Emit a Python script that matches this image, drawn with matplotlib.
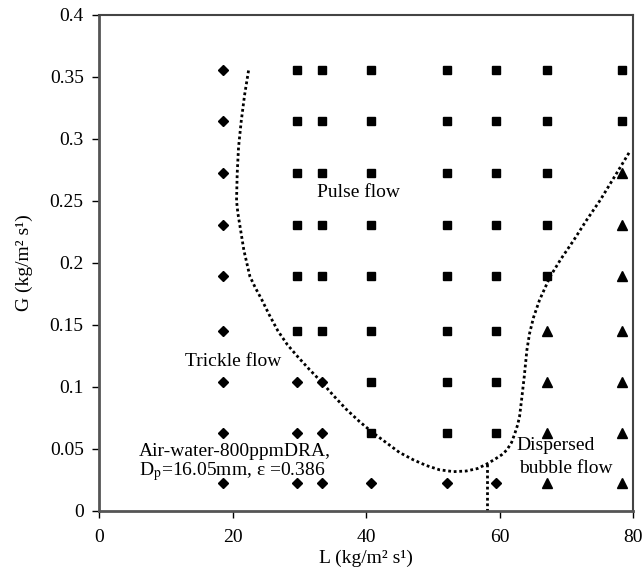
import matplotlib
matplotlib.use("Agg")
import matplotlib.pyplot as plt
from matplotlib.ticker import FuncFormatter

plt.rcParams['font.family'] = ['Liberation Serif', 'DejaVu Serif']
plt.rcParams['mathtext.fontset'] = 'stix'

# trickle flow (diamonds)
trickle_L = [18.6] * 9 + [29.7, 29.7, 29.7, 33.4, 33.4, 33.4, 40.8, 52.1, 59.4]
trickle_G = [0.355, 0.314, 0.272, 0.230, 0.189, 0.145, 0.104, 0.063, 0.022,
             0.104, 0.063, 0.022, 0.104, 0.063, 0.022, 0.022, 0.022, 0.022]

# pulse flow (squares)
pulse_cols = [29.7, 33.4, 40.8, 52.1, 59.4, 67.1, 78.3]
pulse_rows = [
    [0.355, 0.314, 0.272, 0.230, 0.189, 0.145],
    [0.355, 0.314, 0.272, 0.230, 0.189, 0.145],
    [0.355, 0.314, 0.272, 0.230, 0.189, 0.145, 0.104, 0.063],
    [0.355, 0.314, 0.272, 0.230, 0.189, 0.145, 0.104, 0.063],
    [0.355, 0.314, 0.272, 0.230, 0.189, 0.145, 0.104, 0.063],
    [0.355, 0.314, 0.272, 0.230, 0.189],
    [0.355, 0.314],
]
pulse_L = [c for c, r in zip(pulse_cols, pulse_rows) for _ in r]
pulse_G = [g for r in pulse_rows for g in r]

# dispersed bubble flow (triangles)
bubble_L = [67.1] * 4 + [78.3] * 7
bubble_G = [0.145, 0.104, 0.063, 0.022,
            0.272, 0.230, 0.189, 0.145, 0.104, 0.063, 0.022]

# transition boundary
bound_L = [22.4, 21.8, 21.3, 20.9, 20.7, 20.6, 20.8, 21.1, 21.7, 22.6, 23.4,
           24.4, 25.5, 26.8, 28.2, 29.8, 31.5, 33.3, 35.1, 37.0, 39.0, 41.0,
           43.0, 45.0, 47.1, 49.0, 51.0, 53.1, 55.0, 56.7, 58.1, 59.3, 60.3,
           61.1, 61.8, 62.3, 62.7, 63.0, 63.3, 63.7, 64.1, 64.5, 65.1, 66.0,
           67.6, 69.2, 71.1, 73.0, 75.1, 77.3, 79.5]
bound_G = [0.355, 0.335, 0.314, 0.293, 0.272, 0.250, 0.240, 0.230, 0.210,
           0.189, 0.180, 0.170, 0.158, 0.145, 0.134, 0.124, 0.114, 0.104,
           0.093, 0.082, 0.072, 0.063, 0.055, 0.047, 0.041, 0.0365, 0.0330,
           0.0315, 0.0320, 0.0340, 0.0377, 0.0415, 0.0450, 0.049, 0.055,
           0.0624, 0.069, 0.076, 0.0893, 0.108, 0.1296, 0.143, 0.156, 0.170,
           0.189, 0.203, 0.218, 0.234, 0.2506, 0.270, 0.2895]

split_L = [58.1, 58.1]
split_G = [0.0377, 0.0]

fig = plt.figure(figsize=(6.43, 5.83), dpi=100)
ax = fig.add_axes([0.154, 0.124, 0.8305, 0.8508])

ax.plot(trickle_L, trickle_G, linestyle='none', marker='D', ms=5, color='black')
ax.plot(pulse_L, pulse_G, linestyle='none', marker='s', ms=6, color='black')
ax.plot(bubble_L, bubble_G, linestyle='none', marker='^', ms=7.5, color='black')

ax.plot(bound_L, bound_G, linestyle=(0, (1, 1)), linewidth=2, color='black')
ax.plot(split_L, split_G, linestyle=(0, (1, 1)), linewidth=2, color='black')

ax.text(32.6, 0.2565, "Pulse flow", fontsize=14, va='center', ha='left')
ax.text(12.9, 0.1207, "Trickle flow", fontsize=14, va='center', ha='left')
ax.text(6.0, 0.0478, "Air-water-800ppmDRA,", fontsize=14, va='center', ha='left')
ax.text(6.0, 0.0318, r"D$_\mathrm{p}$=16.05mm, ε =0.386", fontsize=14,
        va='center', ha='left')
ax.text(62.6, 0.0524, "Dispersed", fontsize=14, va='center', ha='left')
ax.text(63.0, 0.0342, "bubble flow", fontsize=14, va='center', ha='left')

ax.set_xlim(0, 80)
ax.set_ylim(0, 0.4)
ax.set_xticks([0, 20, 40, 60, 80])
ax.set_yticks([0, 0.05, 0.1, 0.15, 0.2, 0.25, 0.3, 0.35, 0.4])
ax.yaxis.set_major_formatter(FuncFormatter(lambda v, p: f"{v:g}"))
ax.tick_params(direction='out', length=5, width=1, labelsize=14, colors='black')
ax.tick_params(axis='y', pad=6)
ax.tick_params(axis='x', pad=8)

for side in ['left', 'bottom']:
    ax.spines[side].set_linewidth(2)
    ax.spines[side].set_color('#555555')
for side in ['top', 'right']:
    ax.spines[side].set_linewidth(1.5)
    ax.spines[side].set_color('#444444')

ax.set_xlabel("L (kg/m² s¹)", fontsize=14, labelpad=3)
ax.set_ylabel("G (kg/m² s¹)", fontsize=14, labelpad=12)

fig.savefig("out.png", dpi=100)
